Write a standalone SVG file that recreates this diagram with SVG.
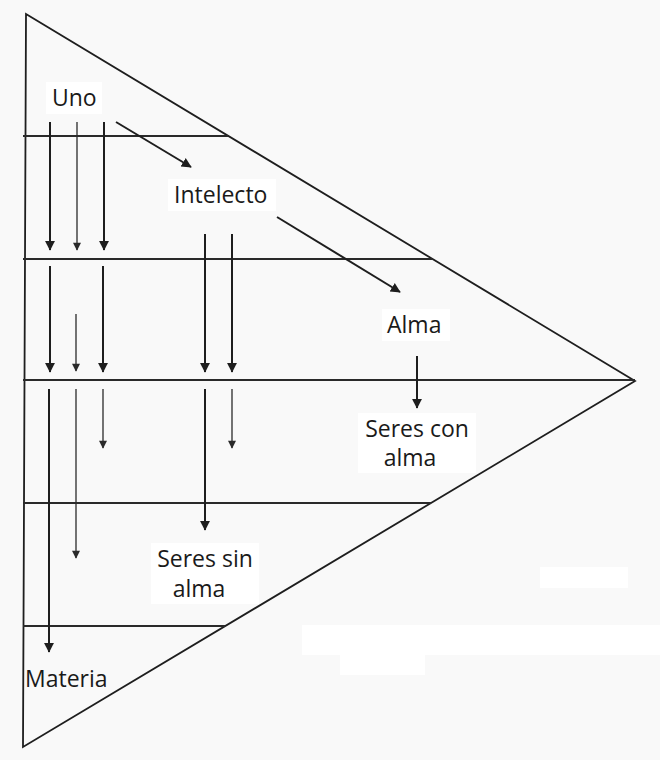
<svg xmlns="http://www.w3.org/2000/svg" width="660" height="760" viewBox="0 0 660 760">
  <style>
    .edge { fill: none; stroke: #1e1e1e; stroke-width: 1.8; stroke-linejoin: miter; }
    .level { stroke: #2a2a2a; stroke-width: 2; }
    .flow { stroke: #1e1e1e; stroke-width: 2; fill: none; marker-end: url(#head); }
    .flow-thin { stroke: #2a2a2a; stroke-width: 1.3; fill: none; marker-end: url(#head-small); }
    .label { font-family: "Open Sans", "Liberation Sans", sans-serif; font-size: 23px; fill: #1a1a1a; }
    .patch { fill: #ffffff; }
  </style>
  <defs>
    <marker id="head" viewBox="0 0 12 12" refX="11" refY="6" markerWidth="10" markerHeight="12" markerUnits="userSpaceOnUse" orient="auto">
      <path d="M0,0 L12,6 L0,12 z" fill="#1e1e1e"/>
    </marker>
    <marker id="head-small" viewBox="0 0 12 12" refX="11" refY="6" markerWidth="9" markerHeight="8" markerUnits="userSpaceOnUse" orient="auto">
      <path d="M0,0 L12,6 L0,12 z" fill="#2a2a2a"/>
    </marker>
  </defs>

  <!-- paper -->
  <rect x="0" y="0" width="660" height="760" fill="#f9f9f9"/>
  <rect class="patch" x="540" y="567" width="88" height="21"/>
  <rect class="patch" x="302" y="625" width="358" height="30"/>
  <rect class="patch" x="340" y="655" width="85" height="20"/>

  <!-- outer triangle -->
  <g id="triangle">
    <polygon class="edge" points="26,14 635,381 23,747"/>
  </g>

  <!-- level dividers -->
  <g id="levels">
    <line class="level" x1="23" y1="136" x2="228" y2="136"/>
    <line class="level" x1="23" y1="259" x2="432" y2="259"/>
    <line class="level" x1="23" y1="380" x2="635" y2="380"/>
    <line class="level" x1="23" y1="503" x2="431" y2="503"/>
    <line class="level" x1="23" y1="626" x2="225" y2="626"/>
  </g>

  <!-- labels -->
  <g id="uno">
    <rect class="patch" x="46" y="82" width="56" height="32"/>
    <text class="label" x="52" y="106">Uno</text>
  </g>
  <g id="intelecto">
    <rect class="patch" x="168" y="179" width="108" height="32"/>
    <text class="label" x="174" y="203">Intelecto</text>
  </g>
  <g id="alma">
    <rect class="patch" x="382" y="309" width="68" height="32"/>
    <text class="label" x="387" y="333">Alma</text>
  </g>
  <g id="seres-con-alma">
    <rect class="patch" x="358" y="413" width="118" height="60"/>
    <text class="label" text-anchor="middle" x="417" y="437">Seres con</text>
    <text class="label" text-anchor="middle" x="410" y="466">alma</text>
  </g>
  <g id="seres-sin-alma">
    <rect class="patch" x="151" y="543" width="108" height="61"/>
    <text class="label" text-anchor="middle" x="205" y="567">Seres sin</text>
    <text class="label" text-anchor="middle" x="199" y="597">alma</text>
  </g>
  <g id="materia">
    <text class="label" x="25" y="687">Materia</text>
  </g>

  <!-- connectors -->
  <g id="connectors">
    <!-- emanation between hypostases -->
    <line class="flow" x1="116" y1="122" x2="191" y2="167"/>
    <line class="flow" x1="277" y1="217" x2="400" y2="292"/>
    <line class="flow" x1="417" y1="356" x2="417" y2="408"/>

    <!-- descent from Uno -->
    <line class="flow" x1="50" y1="122" x2="50" y2="250"/>
    <line class="flow-thin" x1="77" y1="122" x2="77" y2="250"/>
    <line class="flow" x1="104" y1="122" x2="104" y2="250"/>

    <line class="flow" x1="50" y1="266" x2="50" y2="372"/>
    <line class="flow-thin" x1="76" y1="314" x2="76" y2="371"/>
    <line class="flow" x1="103" y1="266" x2="103" y2="372"/>

    <line class="flow" x1="49" y1="389" x2="49" y2="652"/>
    <line class="flow-thin" x1="76" y1="389" x2="76" y2="558"/>
    <line class="flow-thin" x1="103" y1="389" x2="103" y2="448"/>

    <!-- descent from Intelecto -->
    <line class="flow" x1="205" y1="234" x2="205" y2="372"/>
    <line class="flow" x1="232" y1="234" x2="232" y2="372"/>

    <line class="flow" x1="205" y1="389" x2="205" y2="530"/>
    <line class="flow-thin" x1="232" y1="389" x2="232" y2="448"/>
  </g>
</svg>
